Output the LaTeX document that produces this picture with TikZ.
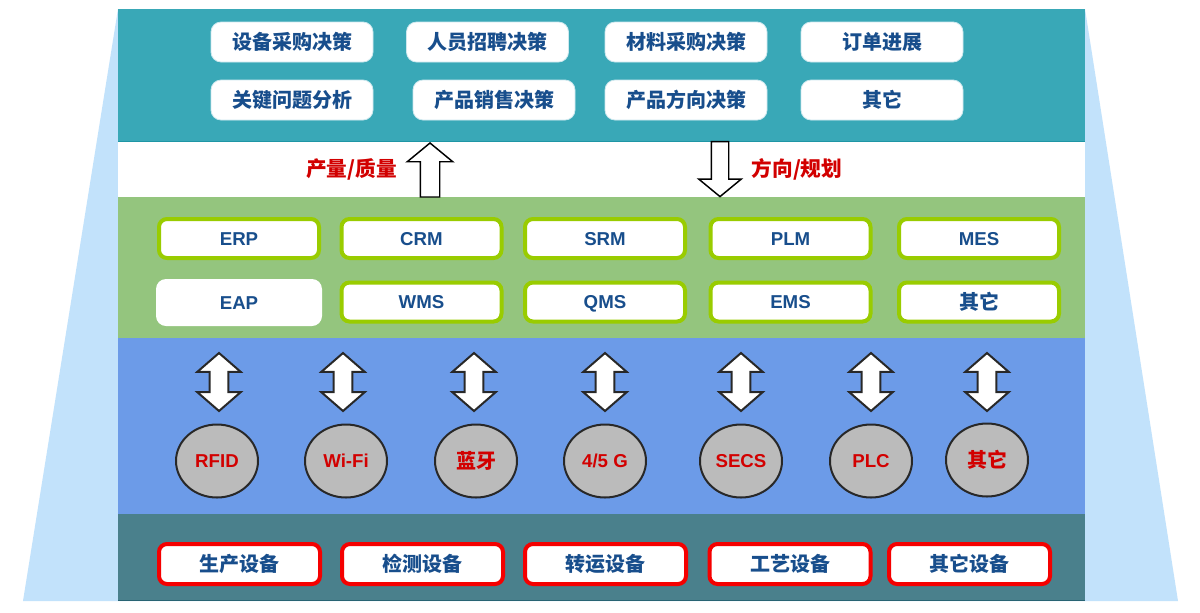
\documentclass[tikz,border=0pt]{standalone}
\usepackage{fontspec}
\setmainfont{Liberation Sans}
\newfontfamily\cjk{Noto Sans CJK SC}
\usepackage{tikz}
\definecolor{trapblue}{RGB}{194,226,251}
\definecolor{decteal}{RGB}{57,168,183}
\definecolor{tealrim}{RGB}{30,150,165}
\definecolor{sysgreen}{RGB}{148,197,126}
\definecolor{netblue}{RGB}{108,155,232}
\definecolor{devteal}{RGB}{74,128,140}
\definecolor{devrim}{RGB}{40,100,115}
\definecolor{boxrim}{RGB}{205,232,238}
\definecolor{txtblue}{RGB}{24,78,140}
\definecolor{limeline}{RGB}{153,204,0}
\definecolor{redline}{RGB}{245,0,0}
\definecolor{redtxt}{RGB}{210,0,0}
\definecolor{nodegray}{RGB}{187,187,187}
\definecolor{darkrim}{RGB}{40,40,40}
\usetikzlibrary{shapes.geometric}
\usetikzlibrary{shapes.arrows}
\pgfdeclarelayer{bglayer}
\pgfdeclarelayer{nodelayer}
\pgfsetlayers{bglayer,nodelayer,main}
\tikzstyle{decbox}=[rectangle,rounded corners=7.5pt,fill=white,draw=boxrim,line width=0.6pt,minimum width=121.5pt,minimum height=30pt,inner sep=0pt,text=txtblue,font=\cjk\bfseries\fontsize{15}{16}\selectfont]
\tikzstyle{sysbox}=[rectangle,rounded corners=6pt,fill=white,draw=limeline,line width=3pt,minimum width=120pt,minimum height=29.25pt,inner sep=0pt,text height=10pt,text depth=0pt,text=txtblue,font=\bfseries\fontsize{14}{15}\selectfont]
\tikzstyle{devbox}=[rectangle,rounded corners=6pt,fill=white,draw=redline,line width=3pt,minimum width=120.75pt,minimum height=30pt,inner sep=0pt,text=txtblue,font=\cjk\bfseries\fontsize{15}{16}\selectfont]
\tikzstyle{link}=[ellipse,fill=nodegray,draw=darkrim,line width=1.5pt,minimum width=61.5pt,minimum height=54.75pt,inner sep=0pt,text=redtxt,font=\bfseries\fontsize{14}{15}\selectfont]
\tikzstyle{dblarrow}=[double arrow,rotate=90,fill=white,draw=darkrim,line width=1.5pt,minimum height=43.5pt,inner xsep=0pt,inner ysep=6.2pt,double arrow head extend=9.4pt,double arrow tip angle=98]
\tikzstyle{flowarrow}=[single arrow,fill=white,draw=black,line width=1.1pt,inner xsep=0pt]
\tikzstyle{flowlabel}=[text=redtxt,font=\cjk\bfseries\fontsize{15.5}{17}\selectfont]

\begin{document}
\begin{tikzpicture}[x=0.75pt,y=-0.75pt]
        \useasboundingbox (0,0) rectangle (1200,612);
        \begin{pgfonlayer}{bglayer}
            \fill [white] (0,0) rectangle (1200,612);
            \fill [trapblue] (118,9) -- (1085,9) -- (1178,601) -- (23,601) -- cycle;
            \fill [decteal] (118,9) rectangle (1085,142);
            \draw [tealrim, line width=1pt] (118,141.5) -- (1085,141.5);
            \fill [white] (118,142) rectangle (1085,197);
            \fill [sysgreen] (118,197) rectangle (1085,338);
            \fill [netblue] (118,338) rectangle (1085,514);
            \fill [devteal] (118,514) rectangle (1085,601);
            \draw [devrim, line width=1pt] (118,600.5) -- (1085,600.5);
        \end{pgfonlayer}

        \begin{pgfonlayer}{nodelayer}
            \node [style = decbox] (equip) at (292, 42) {设备采购决策};
            \node [style = decbox] (hire) at (487.5, 42) {人员招聘决策};
            \node [style = decbox] (material) at (686, 42) {材料采购决策};
            \node [style = decbox] (orders) at (882, 42) {订单进展};
            \node [style = decbox] (issues) at (292, 100) {关键问题分析};
            \node [style = decbox] (sales) at (494, 100) {产品销售决策};
            \node [style = decbox] (direction) at (686, 100) {产品方向决策};
            \node [style = decbox] (decother) at (882, 100) {其它};

            \node [style = flowarrow, rotate=90, minimum height=40.5pt, inner ysep=6.75pt, single arrow head extend=9.75pt, single arrow tip angle=101] (up) at (430, 174) {};
            \node [style = flowarrow, rotate=-90, minimum height=41.25pt, inner ysep=6pt, single arrow head extend=9.4pt, single arrow tip angle=101] (down) at (720, 165.5) {};
            \node [style = flowlabel] (uplabel) at (351.5, 169) {产量/质量};
            \node [style = flowlabel] (downlabel) at (797, 169) {方向/规划};

            \node [style = sysbox] (erp) at (239, 238.5) {ERP};
            \node [style = sysbox] (crm) at (421.5, 238.5) {CRM};
            \node [style = sysbox] (srm) at (605, 238.5) {SRM};
            \node [style = sysbox] (plm) at (790.5, 238.5) {PLM};
            \node [style = sysbox] (mes) at (979, 238.5) {MES};
            \node [style = sysbox, draw=none, minimum width=124.5pt, minimum height=35.25pt, rounded corners=7.5pt] (eap) at (239, 302.5) {EAP};
            \node [style = sysbox] (wms) at (421.5, 302) {WMS};
            \node [style = sysbox] (qms) at (605, 302) {QMS};
            \node [style = sysbox] (ems) at (790.5, 302) {EMS};
            \node [style = sysbox, text height=, text depth=, font=\cjk\bfseries\fontsize{15}{16}\selectfont] (sysother) at (979, 302) {其它};

            \node [style = dblarrow] (a1) at (219, 382) {};
            \node [style = dblarrow] (a2) at (343, 382) {};
            \node [style = dblarrow] (a3) at (474, 382) {};
            \node [style = dblarrow] (a4) at (605, 382) {};
            \node [style = dblarrow] (a5) at (741, 382) {};
            \node [style = dblarrow] (a6) at (871, 382) {};
            \node [style = dblarrow] (a7) at (987, 382) {};

            \node [style = link] (rfid) at (217, 461) {RFID};
            \node [style = link] (wifi) at (346, 461) {Wi-Fi};
            \node [style = link, font=\cjk\bfseries\fontsize{15}{16}\selectfont] (bt) at (476, 461) {蓝牙};
            \node [style = link] (cell) at (605, 461) {4/5 G};
            \node [style = link] (secs) at (741, 461) {SECS};
            \node [style = link] (plc) at (871, 461) {PLC};
            \node [style = link, font=\cjk\bfseries\fontsize{15}{16}\selectfont] (netother) at (987, 460) {其它};

            \node [style = devbox] (prod) at (239.5, 564) {生产设备};
            \node [style = devbox] (test) at (422.5, 564) {检测设备};
            \node [style = devbox] (move) at (605.5, 564) {转运设备};
            \node [style = devbox] (craft) at (790, 564) {工艺设备};
            \node [style = devbox] (devother) at (969.5, 564) {其它设备};
        \end{pgfonlayer}
    \end{tikzpicture}
\end{document}
